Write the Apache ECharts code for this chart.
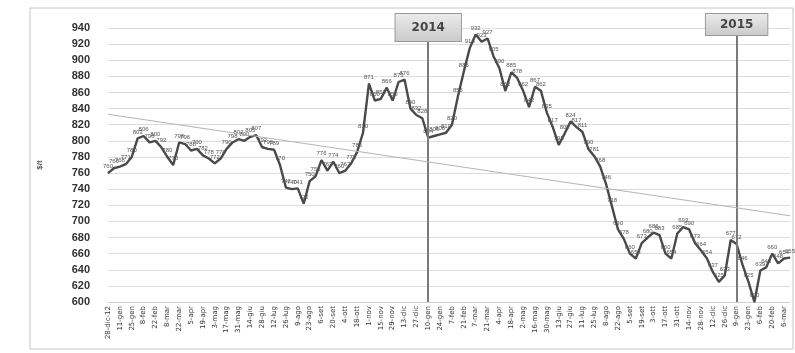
<!DOCTYPE html>
<html><head><meta charset="utf-8">
<script src="https://cdn.jsdelivr.net/npm/echarts@6/dist/echarts.min.js"></script>
<style>html,body{margin:0;padding:0;background:#fff}#c{width:795px;height:353px}</style>
</head><body><div id="c"></div>
<script>
const categories = [
 '28-dic-12',
 '4-gen','11-gen','18-gen','25-gen','1-feb','8-feb','15-feb','22-feb','1-mar','8-mar','15-mar','22-mar','29-mar',
 '5-apr','12-apr','19-apr','26-apr','3-mag','10-mag','17-mag','24-mag','31-mag','7-giu','14-giu','21-giu','28-giu',
 '5-lug','12-lug','19-lug','26-lug','2-ago','9-ago','16-ago','23-ago','30-ago','6-set','13-set','20-set','27-set',
 '4-ott','11-ott','18-ott','25-ott','1-nov','8-nov','15-nov','22-nov','29-nov','6-dic','13-dic','20-dic','27-dic',
 '3-gen','10-gen','17-gen','24-gen','31-gen','7-feb','14-feb','21-feb','28-feb','7-mar','14-mar','21-mar','28-mar',
 '4-apr','11-apr','18-apr','25-apr','2-mag','9-mag','16-mag','23-mag','30-mag','6-giu','13-giu','20-giu','27-giu',
 '4-lug','11-lug','18-lug','25-lug','1-ago','8-ago','15-ago','22-ago','29-ago','5-set','12-set','19-set','26-set',
 '3-ott','10-ott','17-ott','24-ott','31-ott','7-nov','14-nov','21-nov','28-nov','5-dic','12-dic','19-dic','26-dic',
 '2-gen','9-gen','16-gen','23-gen','30-gen','6-feb','13-feb','20-feb','27-feb','6-mar','13-mar'
];
const prices = [
 760,766,768,771,780,803,806,798,800,792,780,770,798,796,788,790,782,778,772,778,
 790,798,802,800,805,807,792,790,789,770,742,740,741,722,750,756,776,763,774,760,
 763,772,786,810,871,850,852,866,850,873,876,840,832,828,804,806,808,810,820,855,
 886,915,932,923,927,905,890,862,885,878,862,842,867,862,835,817,795,809,824,817,
 811,790,781,768,746,718,690,678,660,654,673,680,686,683,660,654,685,693,690,673,
 664,654,637,625,633,677,672,646,625,600,639,643,660,648,654,655
];
const yTicks = {min: 600, max: 940, step: 20};
const trendStart = 833, trendEnd = 707;
const yearMarks = [{index: 54, text: '2014'}, {index: 106, text: '2015'}];
const yName = '$/t';

const chart = echarts.init(document.getElementById('c'));
const boxStyle = (big) => ({
  show: true, position: 'end', distance: big ? -13 : -7,
  formatter: '{b}', color: '#444', fontSize: 12, fontWeight: 'bold', fontFamily: 'DejaVu Sans',
  backgroundColor: {type: 'linear', x: 0, y: 0, x2: 0, y2: 1,
    colorStops: [{offset: 0, color: '#ececec'}, {offset: 1, color: '#c9c9c9'}]},
  borderColor: '#9a9a9a', borderWidth: 1,
  padding: big ? [8, 16, 7, 16] : [5, 14, 4, 14]
});
chart.setOption({
  animation: false,
  grid: {left: 108, right: 5, top: 28, bottom: 51},
  graphic: [{type: 'rect', shape: {x: 30, y: 8, width: 763, height: 341},
    style: {fill: 'none', stroke: '#c4c4c4', lineWidth: 1}, z: -1}],
  xAxis: {
    type: 'category', data: categories, boundaryGap: false,
    axisLine: {show: true, lineStyle: {color: '#d0d0d0'}},
    axisTick: {show: false},
    axisLabel: {rotate: 90, interval: 1, fontSize: 7, color: '#333', margin: 4, fontFamily: 'DejaVu Sans'},
    splitLine: {show: false}
  },
  yAxis: {
    type: 'value', min: yTicks.min, max: yTicks.max, interval: yTicks.step,
    name: yName, nameLocation: 'middle', nameGap: 64, nameRotate: 90,
    nameTextStyle: {fontSize: 8, fontWeight: 'bold', color: '#555'},
    axisLine: {show: false}, axisTick: {show: false},
    axisLabel: {fontSize: 11, fontWeight: 'bold', color: '#333', margin: 18, fontFamily: 'Liberation Sans'},
    splitLine: {lineStyle: {color: '#dcdcdc', width: 1}}
  },
  series: [
    {
      type: 'line', data: prices, symbol: 'circle', symbolSize: 1, showSymbol: true,
      lineStyle: {color: '#4a4a4a', width: 2.4}, itemStyle: {color: '#4a4a4a'},
      label: {show: true, position: 'top', fontSize: 6, color: '#555', distance: 3},
      z: 3,
      markLine: {
        silent: true, symbol: 'none',
        lineStyle: {color: '#7a7a7a', width: 2, type: 'solid'},
        data: yearMarks.map((m, k) => ({xAxis: m.index, name: m.text, label: boxStyle(k === 0)}))
      }
    },
    {
      type: 'line', data: [], z: 2,
      markLine: {
        silent: true, symbol: 'none', label: {show: false},
        lineStyle: {color: '#b5b5b5', width: 1.2, type: 'solid'},
        data: [[{coord: [0, trendStart]}, {coord: [categories.length - 1, trendEnd]}]]
      }
    }
  ]
});
</script></body></html>
